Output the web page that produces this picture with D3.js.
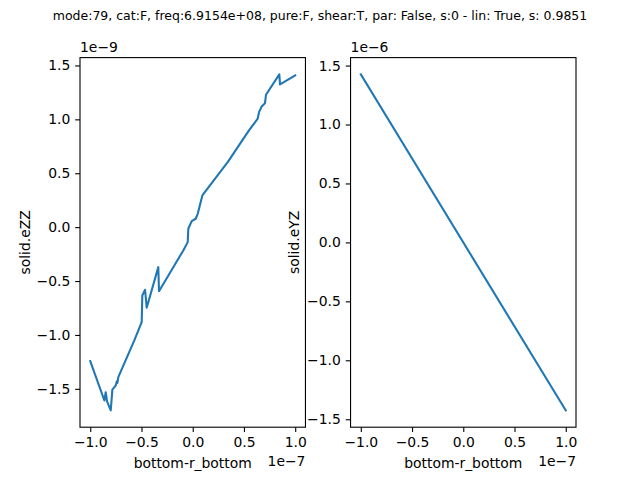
<!DOCTYPE html>
<html><head><meta charset="utf-8">
<script src="https://cdn.jsdelivr.net/npm/d3@7"></script>
<style>body{margin:0;background:#fff}svg{display:block}text{font-family:"DejaVu Sans",sans-serif;fill:#000}</style>
</head><body>
<script>
const titleText = "mode:79, cat:F, freq:6.9154e+08, pure:F, shear:T, par: False, s:0 - lin: True, s: 0.9851";
// left panel (x in 1e-7, y in 1e-9)
const leftX = [-1.0,-0.862,-0.849,-0.836,-0.80,-0.784,-0.751,-0.741,-0.735,-0.726,-0.570,-0.498,-0.492,-0.465,-0.449,-0.336,-0.329,-0.092,-0.049,-0.043,-0.010,0.029,0.049,0.094,0.343,0.549,0.634,0.647,0.673,0.705,0.715,0.845,0.852,1.0];
const leftY = [-1.243,-1.608,-1.531,-1.617,-1.70,-1.508,-1.468,-1.429,-1.445,-1.391,-1.051,-0.881,-0.634,-0.581,-0.748,-0.371,-0.594,-0.216,-0.139,-0.015,0.056,0.078,0.124,0.294,0.605,0.897,1.006,1.067,1.12,1.15,1.228,1.417,1.324,1.407];
// right panel (x in 1e-7, y in 1e-6)
const rightX = [-1.0, 1.0];
const rightY = [1.425, -1.425];
const xTicks = [-1.0,-0.5,0.0,0.5,1.0];
const yTicks = [-1.5,-1.0,-0.5,0.0,0.5,1.0,1.5];
const xLabel = "bottom-r_bottom";
const leftYLabel = "solid.eZZ", rightYLabel = "solid.eYZ";
const leftXOff = "1e\u22127", leftYOff = "1e\u22129", rightXOff = "1e\u22127", rightYOff = "1e\u22126";

const W = 640, H = 480;
const svg = d3.select("body").append("svg").attr("width", W).attr("height", H);
svg.append("text").attr("x", 320).attr("y", 20).attr("text-anchor","middle").style("font-size","12.5px").text(titleText);

const axTop = 57.6, axBottom = 427.2, axW = 225.45;
const fmt = v => (v < 0 ? "\u2212" : "") + Math.abs(v).toFixed(1);

function panel(left, xs, ys, ylab, xoff, yoff, ylabX) {
  const xe = d3.extent(xs), ye = d3.extent(ys);
  const xm = (xe[1]-xe[0])*0.05, ym = (ye[1]-ye[0])*0.05;
  const x = d3.scaleLinear().domain([xe[0]-xm, xe[1]+xm]).range([left, left+axW]);
  const y = d3.scaleLinear().domain([ye[0]-ym, ye[1]+ym]).range([axBottom, axTop]);
  const g = svg.append("g");
  const line = d3.line().x((d,i)=>x(xs[i])).y((d,i)=>y(ys[i]));
  g.append("path").attr("d", line(xs)).attr("fill","none").attr("stroke","#1f77b4").attr("stroke-width",2.08).attr("stroke-linejoin","round").attr("stroke-linecap","square");
  const xa = d3.axisBottom(x).tickValues(xTicks).tickFormat(fmt).tickSize(4.86).tickPadding(4.86);
  const ya = d3.axisLeft(y).tickValues(yTicks.filter(t=>t>=y.domain()[0]&&t<=y.domain()[1])).tickFormat(fmt).tickSize(4.86).tickPadding(4.86);
  const gx = g.append("g").attr("transform",`translate(0,${axBottom})`).call(xa);
  const gy = g.append("g").attr("transform",`translate(${left},0)`).call(ya);
  [gx, gy].forEach(a => {
    a.select(".domain").remove();
    a.selectAll(".tick line").attr("stroke","#000").attr("stroke-width",1.1);
    a.selectAll(".tick text").style("font-size","13.9px").attr("font-family","DejaVu Sans").attr("fill","#000");
  });
  g.append("rect").attr("x",left).attr("y",axTop).attr("width",axW).attr("height",axBottom-axTop).attr("fill","none").attr("stroke","#000").attr("stroke-width",1.1);
  g.append("text").attr("x", left+axW/2).attr("y", 468).attr("text-anchor","middle").style("font-size","13.9px").text(xLabel);
  g.append("text").attr("x", left+axW).attr("y", 466).attr("text-anchor","end").style("font-size","13.9px").text(xoff);
  g.append("text").attr("x", left).attr("y", 52).attr("text-anchor","start").style("font-size","13.9px").text(yoff);
  g.append("text").attr("transform",`translate(${ylabX},${(axTop+axBottom)/2}) rotate(-90)`).attr("text-anchor","middle").style("font-size","13.9px").text(ylab);
}
panel(80, leftX, leftY, leftYLabel, leftXOff, leftYOff, 30);
panel(350.55, rightX, rightY, rightYLabel, rightXOff, rightYOff, 299);
</script>
</body></html>
